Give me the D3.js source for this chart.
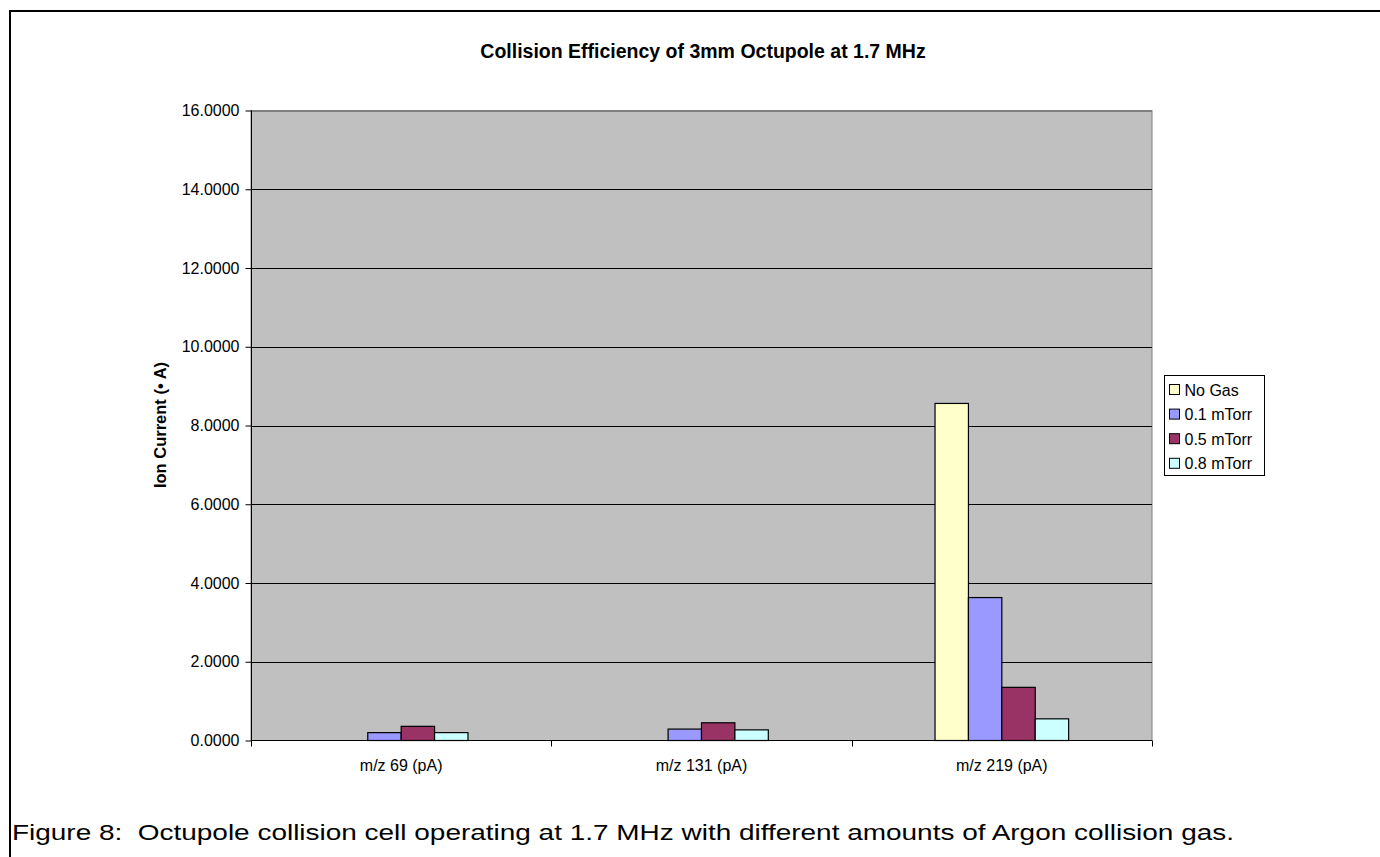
<!DOCTYPE html>
<html><head><meta charset="utf-8">
<script src="https://cdn.jsdelivr.net/npm/d3@7"></script>
<style>body{margin:0;background:#fff}svg{display:block}</style>
</head><body>
<script>
const categories = ["m/z 69 (pA)", "m/z 131 (pA)", "m/z 219 (pA)"];
const seriesNames = ["No Gas", "0.1 mTorr", "0.5 mTorr", "0.8 mTorr"];
const seriesColors = ["#FFFFCC", "#9999FF", "#993366", "#CCFFFF"];
const noGas = [0.0, 0.0, 8.56];
const mTorr01 = [0.20, 0.29, 3.63];
const mTorr05 = [0.36, 0.45, 1.35];
const mTorr08 = [0.20, 0.27, 0.55];
const yTicks = [0, 2, 4, 6, 8, 10, 12, 14, 16];
const seriesValues = [noGas, mTorr01, mTorr05, mTorr08];

const FONT = "'Liberation Sans', Arial, sans-serif";
const W = 1380, H = 857;
const svg = d3.select("body").append("svg").attr("width", W).attr("height", H);

// outer frame (top + left)
svg.append("line").attr("x1", 9).attr("x2", W).attr("y1", 11).attr("y2", 11).attr("stroke", "#000").attr("stroke-width", 2);
svg.append("line").attr("x1", 10).attr("x2", 10).attr("y1", 10).attr("y2", H).attr("stroke", "#000").attr("stroke-width", 2);

const L = 251, R = 1152, T = 110.5, B = 740.5;
const x = d3.scaleBand().domain(categories).range([L, R]);
const y = d3.scaleLinear().domain([0, 16]).range([B, T]);

// plot background
svg.append("rect").attr("x", L).attr("y", T).attr("width", R - L).attr("height", B - T)
  .attr("fill", "#C0C0C0").attr("stroke", "#808080").attr("stroke-width", 1);

// gridlines
svg.append("g").selectAll("line").data(yTicks.filter(d => d > 0)).join("line")
  .attr("x1", L).attr("x2", R).attr("y1", d => Math.round(y(d)) + 0.5).attr("y2", d => Math.round(y(d)) + 0.5)
  .attr("stroke", d => d === 16 ? "#808080" : "#000").attr("stroke-width", 1);

// bars
const barW = 33.4;
const groupW = barW * seriesNames.length;
seriesValues.forEach((vals, si) => {
  const pts = vals.map((v, i) => ({v, c: categories[i]})).filter(p => p.v > 0);
  svg.append("g").selectAll("rect").data(pts).join("rect")
    .attr("x", p => x(p.c) + x.bandwidth() / 2 - groupW / 2 + si * barW)
    .attr("y", p => y(p.v))
    .attr("width", barW)
    .attr("height", p => B - y(p.v))
    .attr("fill", seriesColors[si])
    .attr("stroke", "#000").attr("stroke-width", 1.2);
});

// y axis
const yAxis = d3.axisLeft(y).tickValues(yTicks).tickFormat(d3.format(".4f")).tickSize(6).tickPadding(6);
const ya = svg.append("g").attr("transform", `translate(${L + 0.5},0)`).call(yAxis);
ya.select(".domain").attr("stroke", "#000").attr("d", `M0,${T}V${B}`);
ya.selectAll("text").attr("font-family", FONT).attr("font-size", 16).attr("fill", "#000");
ya.selectAll("line").attr("stroke", "#000");

// x axis
const xa = svg.append("g").attr("transform", `translate(0,${B})`);
xa.append("line").attr("x1", L).attr("x2", R).attr("y1", 0).attr("y2", 0).attr("stroke", "#000");
const bounds = [L, ...categories.map(c => x(c) + x.bandwidth())];
xa.selectAll("line.tk").data(bounds).join("line").attr("class", "tk")
  .attr("x1", d => Math.round(d) + 0.5).attr("x2", d => Math.round(d) + 0.5).attr("y1", 0).attr("y2", 6).attr("stroke", "#000");
xa.selectAll("text").data(categories).join("text")
  .attr("x", d => x(d) + x.bandwidth() / 2).attr("y", 30)
  .attr("text-anchor", "middle")
  .attr("font-family", FONT).attr("font-size", 16).text(d => d);

// title
svg.append("text").attr("x", 703).attr("y", 58).attr("text-anchor", "middle")
  .attr("font-family", FONT).attr("font-size", 19.5).attr("font-weight", "bold")
  .text("Collision Efficiency of 3mm Octupole at 1.7 MHz");

// y label
svg.append("text").attr("transform", "translate(166,425) rotate(-90)").attr("text-anchor", "middle")
  .attr("font-family", FONT).attr("font-size", 16.5).attr("font-weight", "bold")
  .text("Ion Current (• A)");

// legend
const lg = svg.append("g").attr("transform", "translate(1164.5,375.5)");
lg.append("rect").attr("width", 100).attr("height", 100).attr("fill", "#fff").attr("stroke", "#000");
seriesNames.forEach((n, i) => {
  const cy = 14 + i * 24.6;
  lg.append("rect").attr("x", 5).attr("y", cy - 5).attr("width", 10).attr("height", 10)
    .attr("fill", seriesColors[i]).attr("stroke", "#000");
  lg.append("text").attr("x", 20).attr("y", cy + 6)
    .attr("font-family", FONT).attr("font-size", 16).text(n);
});

// caption
svg.append("text").attr("x", 12).attr("y", 840)
  .attr("font-family", FONT).attr("font-size", 22)
  .attr("textLength", 1222).attr("lengthAdjust", "spacingAndGlyphs")
  .style("white-space", "pre")
  .text("Figure 8:  Octupole collision cell operating at 1.7 MHz with different amounts of Argon collision gas.");
</script>
</body></html>
